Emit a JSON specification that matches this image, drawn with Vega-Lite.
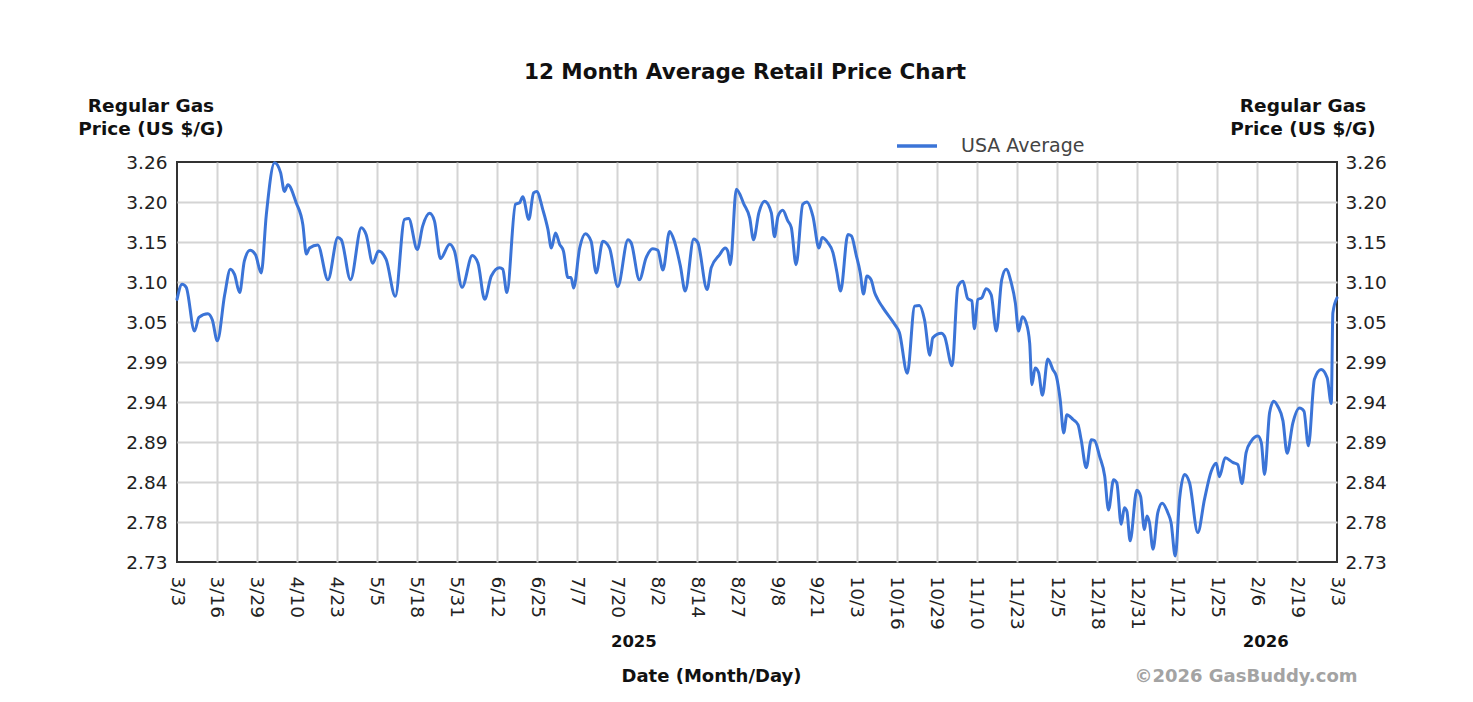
{
  "$schema": "https://vega.github.io/schema/vega-lite/v6.json",
  "autosize": {"type": "none"},
  "padding": {"left": 177, "top": 162, "right": 136, "bottom": 140},
  "width": 1160,
  "height": 400,
  "background": "white",
  "title": {
    "text": "12 Month Average Retail Price Chart",
    "font": "DejaVu Sans",
    "fontSize": 21.5,
    "fontWeight": "bold",
    "color": "#111111",
    "anchor": "middle",
    "dx": -12,
    "offset": 13
  },
  "config": {
    "view": {"stroke": "#333333", "strokeWidth": 2},
    "axis": {
      "labelFont": "DejaVu Sans",
      "labelFontSize": 18.5,
      "labelColor": "#222222",
      "titleFont": "DejaVu Sans",
      "titleFontWeight": "bold",
      "titleColor": "#111111",
      "titleFontSize": 18.5,
      "ticks": false,
      "domain": false
    }
  },
  "data": {
    "values": [
      {"day": 0, "price": 3.078}, {"day": 1.6, "price": 3.098}, {"day": 2.9, "price": 3.094}, {"day": 5.5, "price": 3.036},
      {"day": 6.9, "price": 3.054}, {"day": 9.7, "price": 3.059}, {"day": 11.1, "price": 3.051}, {"day": 12.7, "price": 3.023},
      {"day": 15.0, "price": 3.084}, {"day": 16.8, "price": 3.118}, {"day": 18.1, "price": 3.111}, {"day": 19.7, "price": 3.087},
      {"day": 21.2, "price": 3.129}, {"day": 23.0, "price": 3.143}, {"day": 24.7, "price": 3.137}, {"day": 26.5, "price": 3.113},
      {"day": 28.1, "price": 3.19}, {"day": 30.7, "price": 3.259}, {"day": 32.6, "price": 3.246}, {"day": 33.8, "price": 3.221},
      {"day": 34.9, "price": 3.23}, {"day": 37.5, "price": 3.206}, {"day": 39.6, "price": 3.177}, {"day": 40.7, "price": 3.138},
      {"day": 41.7, "price": 3.146}, {"day": 44.3, "price": 3.15}, {"day": 47.5, "price": 3.104}, {"day": 50.6, "price": 3.16},
      {"day": 51.7, "price": 3.157}, {"day": 54.6, "price": 3.104}, {"day": 58.0, "price": 3.173}, {"day": 59.5, "price": 3.164},
      {"day": 61.6, "price": 3.126}, {"day": 63.4, "price": 3.142}, {"day": 65.8, "price": 3.131}, {"day": 68.7, "price": 3.082},
      {"day": 71.6, "price": 3.184}, {"day": 72.9, "price": 3.185}, {"day": 75.6, "price": 3.144}, {"day": 77.3, "price": 3.175},
      {"day": 79.5, "price": 3.192}, {"day": 81.0, "price": 3.182}, {"day": 82.9, "price": 3.132}, {"day": 85.8, "price": 3.151},
      {"day": 87.3, "price": 3.142}, {"day": 89.7, "price": 3.094}, {"day": 92.9, "price": 3.136}, {"day": 94.7, "price": 3.126},
      {"day": 96.8, "price": 3.078}, {"day": 98.9, "price": 3.109}, {"day": 101.5, "price": 3.12}, {"day": 102.5, "price": 3.118},
      {"day": 103.8, "price": 3.087}, {"day": 106.5, "price": 3.204}, {"day": 107.8, "price": 3.206}, {"day": 108.8, "price": 3.214},
      {"day": 110.7, "price": 3.184}, {"day": 112.2, "price": 3.219}, {"day": 113.2, "price": 3.221}, {"day": 115.1, "price": 3.197},
      {"day": 116.7, "price": 3.171}, {"day": 117.8, "price": 3.146}, {"day": 119.1, "price": 3.166}, {"day": 120.4, "price": 3.151},
      {"day": 121.6, "price": 3.142}, {"day": 123.0, "price": 3.107}, {"day": 124.0, "price": 3.107}, {"day": 124.8, "price": 3.093},
      {"day": 126.7, "price": 3.146}, {"day": 128.5, "price": 3.165}, {"day": 130.3, "price": 3.155}, {"day": 131.9, "price": 3.113},
      {"day": 134.0, "price": 3.155}, {"day": 136.1, "price": 3.146}, {"day": 138.7, "price": 3.095}, {"day": 141.9, "price": 3.157},
      {"day": 142.9, "price": 3.153}, {"day": 145.5, "price": 3.104}, {"day": 147.6, "price": 3.133}, {"day": 149.7, "price": 3.145},
      {"day": 151.3, "price": 3.143}, {"day": 152.9, "price": 3.117}, {"day": 155.0, "price": 3.168}, {"day": 156.5, "price": 3.155},
      {"day": 158.4, "price": 3.122}, {"day": 159.9, "price": 3.089}, {"day": 162.6, "price": 3.158}, {"day": 163.9, "price": 3.153},
      {"day": 166.8, "price": 3.091}, {"day": 168.1, "price": 3.12}, {"day": 170.7, "price": 3.137}, {"day": 172.5, "price": 3.146},
      {"day": 173.3, "price": 3.142}, {"day": 174.1, "price": 3.124}, {"day": 176.0, "price": 3.224}, {"day": 178.4, "price": 3.204},
      {"day": 180.2, "price": 3.186}, {"day": 181.4, "price": 3.157}, {"day": 183.1, "price": 3.193}, {"day": 184.9, "price": 3.208},
      {"day": 187.0, "price": 3.193}, {"day": 188.0, "price": 3.161}, {"day": 189.1, "price": 3.188}, {"day": 190.6, "price": 3.196},
      {"day": 192.2, "price": 3.182}, {"day": 193.3, "price": 3.173}, {"day": 194.8, "price": 3.124}, {"day": 196.9, "price": 3.204},
      {"day": 198.2, "price": 3.207}, {"day": 200.1, "price": 3.188}, {"day": 202.0, "price": 3.146}, {"day": 203.0, "price": 3.16},
      {"day": 204.8, "price": 3.153}, {"day": 206.4, "price": 3.14}, {"day": 207.6, "price": 3.115}, {"day": 208.8, "price": 3.089},
      {"day": 211.1, "price": 3.164}, {"day": 212.2, "price": 3.162}, {"day": 213.7, "price": 3.137}, {"day": 215.0, "price": 3.113},
      {"day": 216.0, "price": 3.085}, {"day": 217.1, "price": 3.109}, {"day": 218.4, "price": 3.104}, {"day": 219.5, "price": 3.087},
      {"day": 220.5, "price": 3.078}, {"day": 222.1, "price": 3.067}, {"day": 225.8, "price": 3.045}, {"day": 227.3, "price": 3.034},
      {"day": 229.8, "price": 2.98}, {"day": 232.1, "price": 3.069}, {"day": 233.6, "price": 3.07}, {"day": 235.2, "price": 3.051},
      {"day": 236.9, "price": 3.004}, {"day": 237.8, "price": 3.027}, {"day": 240.5, "price": 3.033}, {"day": 241.5, "price": 3.029},
      {"day": 243.9, "price": 2.99}, {"day": 245.7, "price": 3.095}, {"day": 247.3, "price": 3.102}, {"day": 248.8, "price": 3.079},
      {"day": 250.1, "price": 3.076}, {"day": 250.9, "price": 3.039}, {"day": 252.0, "price": 3.078}, {"day": 253.2, "price": 3.08},
      {"day": 254.6, "price": 3.092}, {"day": 256.2, "price": 3.084}, {"day": 257.8, "price": 3.036}, {"day": 259.5, "price": 3.104},
      {"day": 260.9, "price": 3.118}, {"day": 262.5, "price": 3.1}, {"day": 263.8, "price": 3.073}, {"day": 264.8, "price": 3.036},
      {"day": 266.0, "price": 3.055}, {"day": 267.2, "price": 3.047}, {"day": 268.3, "price": 3.02}, {"day": 269.0, "price": 2.965},
      {"day": 270.0, "price": 2.987}, {"day": 271.1, "price": 2.981}, {"day": 272.3, "price": 2.951}, {"day": 274.0, "price": 2.999},
      {"day": 275.6, "price": 2.985}, {"day": 276.7, "price": 2.976}, {"day": 277.9, "price": 2.945}, {"day": 279.0, "price": 2.901},
      {"day": 280.0, "price": 2.925}, {"day": 281.9, "price": 2.919}, {"day": 283.5, "price": 2.912}, {"day": 284.5, "price": 2.892},
      {"day": 286.1, "price": 2.855}, {"day": 287.7, "price": 2.892}, {"day": 288.7, "price": 2.891}, {"day": 290.3, "price": 2.87},
      {"day": 291.9, "price": 2.844}, {"day": 293.1, "price": 2.799}, {"day": 294.7, "price": 2.839}, {"day": 295.7, "price": 2.835},
      {"day": 297.1, "price": 2.78}, {"day": 298.1, "price": 2.802}, {"day": 298.9, "price": 2.797}, {"day": 299.9, "price": 2.758},
      {"day": 302.0, "price": 2.825}, {"day": 303.2, "price": 2.817}, {"day": 304.4, "price": 2.773}, {"day": 305.2, "price": 2.791},
      {"day": 306.0, "price": 2.782}, {"day": 307.1, "price": 2.747}, {"day": 308.6, "price": 2.795}, {"day": 310.0, "price": 2.808},
      {"day": 311.8, "price": 2.795}, {"day": 312.8, "price": 2.782}, {"day": 314.1, "price": 2.738}, {"day": 315.5, "price": 2.815},
      {"day": 317.0, "price": 2.846}, {"day": 318.6, "price": 2.835}, {"day": 321.2, "price": 2.769}, {"day": 323.3, "price": 2.813},
      {"day": 325.4, "price": 2.85}, {"day": 327.0, "price": 2.861}, {"day": 328.0, "price": 2.843}, {"day": 329.8, "price": 2.868},
      {"day": 332.2, "price": 2.862}, {"day": 333.8, "price": 2.859}, {"day": 335.1, "price": 2.834}, {"day": 336.4, "price": 2.875},
      {"day": 338.0, "price": 2.89}, {"day": 340.1, "price": 2.897}, {"day": 341.2, "price": 2.888}, {"day": 342.2, "price": 2.846},
      {"day": 343.8, "price": 2.928}, {"day": 345.1, "price": 2.943}, {"day": 346.4, "price": 2.936}, {"day": 348.0, "price": 2.917},
      {"day": 349.3, "price": 2.874}, {"day": 351.1, "price": 2.914}, {"day": 353.2, "price": 2.934}, {"day": 354.6, "price": 2.93},
      {"day": 356.0, "price": 2.884}, {"day": 357.9, "price": 2.972}, {"day": 360.0, "price": 2.985}, {"day": 361.9, "price": 2.974},
      {"day": 363.2, "price": 2.94}, {"day": 363.7, "price": 3.06}, {"day": 365, "price": 3.08}
    ]
  },
  "layer": [
    {
      "mark": {"type": "line", "strokeWidth": 3, "interpolate": "monotone", "strokeJoin": "round", "strokeCap": "round"},
      "encoding": {
        "x": {
          "field": "day",
          "type": "quantitative",
          "scale": {"domain": [0, 365], "nice": false, "zero": false},
          "axis": {
            "orient": "bottom",
            "values": [0, 12.5862, 25.1724, 37.7586, 50.3448, 62.931, 75.5172, 88.1034, 100.6897, 113.2759, 125.8621, 138.4483, 151.0345, 163.6207, 176.2069, 188.7931, 201.3793, 213.9655, 226.5517, 239.1379, 251.7241, 264.3103, 276.8966, 289.4828, 302.069, 314.6552, 327.2414, 339.8276, 352.4138, 365],
            "labelExpr": "['3/3','3/16','3/29','4/10','4/23','5/5','5/18','5/31','6/12','6/25','7/7','7/20','8/2','8/14','8/27','9/8','9/21','10/3','10/16','10/29','11/10','11/23','12/5','12/18','12/31','1/12','1/25','2/6','2/19','3/3'][round(datum.value / 12.5862)]",
            "labelAngle": 90,
            "labelAlign": "left",
            "labelBaseline": "middle",
            "labelPadding": 14,
            "labelOverlap": false,
            "labelFlush": false,
            "grid": true,
            "gridColor": "#d4d4d4",
            "gridWidth": 2,
            "gridOpacity": {"condition": {"test": "datum.value < 1 || datum.value > 364", "value": 0}, "value": 1},
            "title": "©2026 GasBuddy.com",
            "titleColor": "#a3a3a3",
            "titleFontSize": 18,
            "titleAlign": "right",
            "titleBaseline": "alphabetic",
            "titleX": 1180,
            "titleY": 119
          }
        },
        "y": {
          "field": "price",
          "type": "quantitative",
          "scale": {"domain": [2.73, 3.26], "nice": false, "zero": false},
          "axis": {
            "orient": "left",
            "values": [2.73, 2.783, 2.836, 2.889, 2.942, 2.995, 3.048, 3.101, 3.154, 3.207, 3.26],
            "labelExpr": "['2.73','2.78','2.84','2.89','2.94','2.99','3.05','3.10','3.15','3.20','3.26'][round((datum.value - 2.73) / 0.053)]",
            "labelPadding": 10,
            "grid": true,
            "gridColor": "#d4d4d4",
            "gridWidth": 2,
            "gridOpacity": {"condition": {"test": "datum.value < 2.735 || datum.value > 3.255", "value": 0}, "value": 1},
            "title": ["Regular Gas", "Price (US $/G)"],
            "titleAngle": 0,
            "titleAlign": "center",
            "titleBaseline": "alphabetic",
            "titleX": -26.5,
            "titleY": -50.5,
            "titleLineHeight": 22.5
          }
        },
        "color": {
          "datum": "USA Average",
          "scale": {"range": ["#3b74d7"]},
          "legend": {
            "orient": "none",
            "legendX": 718,
            "legendY": -38,
            "title": null,
            "padding": 0,
            "symbolType": "stroke",
            "symbolSize": 1600,
            "symbolStrokeWidth": 3.5,
            "labelFont": "DejaVu Sans",
            "labelFontSize": 19,
            "labelColor": "#444444",
            "labelOffset": 22
          }
        }
      }
    },
    {
      "mark": {"type": "line", "opacity": 0},
      "encoding": {
        "x": {
          "field": "day",
          "type": "quantitative",
          "axis": {
            "orient": "bottom",
            "values": [143.6, 342.4],
            "labelExpr": "datum.value < 250 ? '2025' : '2026'",
            "labelFontWeight": "bold",
            "labelFontSize": 16.5,
            "labelColor": "#111111",
            "labelPadding": 71,
            "labelFlush": false,
            "labelOverlap": false,
            "grid": false,
            "title": "Date (Month/Day)",
            "titleFontSize": 18,
            "titleAlign": "center",
            "titleBaseline": "alphabetic",
            "titleX": 534,
            "titleY": 119
          }
        },
        "y": {
          "field": "price",
          "type": "quantitative",
          "axis": {
            "orient": "right",
            "values": [2.73, 2.783, 2.836, 2.889, 2.942, 2.995, 3.048, 3.101, 3.154, 3.207, 3.26],
            "labelExpr": "['2.73','2.78','2.84','2.89','2.94','2.99','3.05','3.10','3.15','3.20','3.26'][round((datum.value - 2.73) / 0.053)]",
            "labelPadding": 8,
            "grid": false,
            "title": ["Regular Gas", "Price (US $/G)"],
            "titleAngle": 0,
            "titleAlign": "center",
            "titleBaseline": "alphabetic",
            "titleX": -34.5,
            "titleY": -50.5,
            "titleLineHeight": 22.5
          }
        }
      }
    }
  ],
  "resolve": {"axis": {"x": "independent", "y": "independent"}}
}
